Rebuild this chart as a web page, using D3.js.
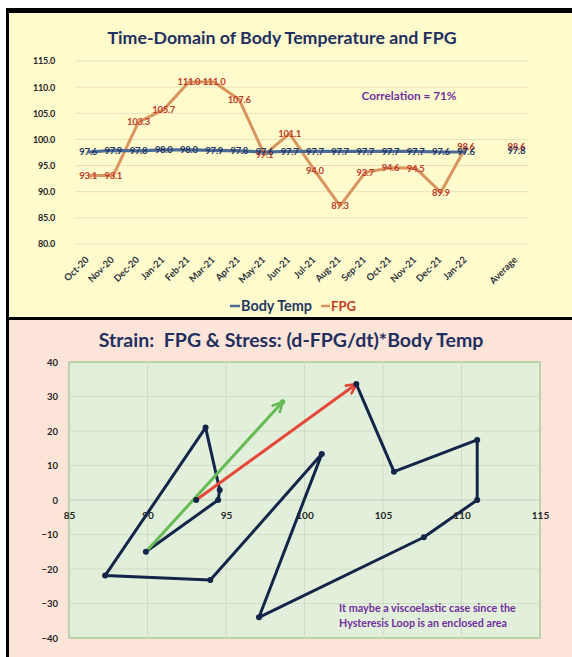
<!DOCTYPE html>
<html><head><meta charset="utf-8">
<script src="https://cdn.jsdelivr.net/npm/d3@7"></script>
<style>
body{margin:0;background:#fff}
svg{display:block}
text{font-family:Lato,"Open Sans",sans-serif;font-weight:bold}
</style>
</head><body>
<svg id="c" width="572" height="657"></svg>
<script>
// ---------- DATA ----------
const months = ["Oct-20","Nov-20","Dec-20","Jan-21","Feb-21","Mar-21","Apr-21","May-21","Jun-21","Jul-21","Aug-21","Sep-21","Oct-21","Nov-21","Dec-21","Jan-22"];
const categories = months.concat(["", "Average"]);
const bodyTemp = [97.6,97.9,97.8,98.0,98.0,97.9,97.8,97.6,97.7,97.7,97.7,97.7,97.7,97.7,97.6,97.6];
const fpgValues = [93.1,93.1,103.3,105.7,111.0,111.0,107.6,97.1,101.1,94.0,87.3,93.7,94.6,94.5,89.9,98.6];
const avgBodyTemp = 97.8;
const avgFpg = 98.6;
const topYTicks = [80,85,90,95,100,105,110,115];
const correlationText = "Correlation = 71%";

// strain (FPG) vs stress, Nov-20 .. Jan-22
const loopMonths = ["Nov-20","Dec-20","Jan-21","Feb-21","Mar-21","Apr-21","May-21","Jun-21","Jul-21","Aug-21","Sep-21","Oct-21","Nov-21","Dec-21","Jan-22"];
const strainFpg = [93.1,103.3,105.7,111.0,111.0,107.6,97.1,101.1,94.0,87.3,93.7,94.6,94.5,89.9,98.6];
const stress = [0,33.6,8.2,17.4,0,-10.8,-34,13.3,-23.2,-21.9,21,2.9,0,-15,28.4];
const bottomXTicks = [85,90,95,100,105,110,115];
const bottomYTicks = [-40,-30,-20,-10,0,10,20,30,40];
const noteLines = ["It maybe a viscoelastic case since the","Hysteresis Loop is an enclosed area"];

// ---------- HELPERS ----------
const svg = d3.select("#c");
function fit(sel, w){
  const n = sel.node(); const fs = parseFloat(sel.attr("font-size"));
  const L = n.getComputedTextLength();
  if (L > 0) sel.attr("font-size", (fs * w / L).toFixed(2));
  return sel;
}

// ---------- PANELS ----------
svg.append("rect").attr("x",6).attr("y",8).attr("width",566).attr("height",649).attr("fill","#000");
svg.append("rect").attr("x",9).attr("y",13).attr("width",563).attr("height",304).attr("fill","#FFFBCD");
svg.append("rect").attr("x",9).attr("y",320).attr("width",563).attr("height",337).attr("fill","#FDE4D9");

// ---------- TOP CHART ----------
const navy = "#1F2F5F";
const blueLine = "#4C6C98", orangeLine = "#D9955F", redLabel = "#BF3B2A", navyLabel = "#1F3864";

fit(svg.append("text").attr("x",282).attr("y",44).attr("text-anchor","middle")
  .attr("font-size",18).attr("fill",navy).text("Time-Domain of Body Temperature and FPG"), 349);

const x = d3.scaleBand().domain(d3.range(categories.length)).range([75.5, 529]);
const y = d3.scaleLinear().domain([80,115]).range([244, 61]);
const cx = i => x(i) + x.bandwidth()/2;

const gGrid = svg.append("g");
gGrid.selectAll("line").data(topYTicks).join("line")
  .attr("x1", x.range()[0]).attr("x2", x.range()[1])
  .attr("y1", d=>y(d)).attr("y2", d=>y(d))
  .attr("stroke","#E6E1BC").attr("stroke-width",1);

const yAx = svg.append("g").attr("transform","translate(75,0)")
  .call(d3.axisLeft(y).tickValues(topYTicks).tickFormat(d3.format(".1f")).tickSize(0).tickPadding(20));
yAx.select(".domain").remove();
yAx.selectAll("text").attr("font-size",9).attr("fill","#262626").attr("font-family","Lato").attr("font-weight","bold").attr("letter-spacing","-0.2");

const xAx = svg.append("g").attr("transform","translate(0,244)")
  .call(d3.axisBottom(x).tickFormat(i=>categories[i]).tickSize(0));
xAx.select(".domain").remove();
xAx.selectAll(".tick text")
  .attr("font-size",9.5).attr("fill","#2E3440").attr("font-family","Lato").attr("font-weight","bold")
  .attr("text-anchor","end").attr("y",0).attr("dy","0.35em")
  .attr("transform","translate(-1,14) rotate(-45)");

const idx = d3.range(months.length);
const line = d3.line().x(i=>cx(i));
svg.append("path").attr("d", line.y(i=>y(fpgValues[i]))(idx))
  .attr("fill","none").attr("stroke",orangeLine).attr("stroke-width",3).attr("stroke-linejoin","round");
svg.append("path").attr("d", line.y(i=>y(bodyTemp[i]))(idx))
  .attr("fill","none").attr("stroke",blueLine).attr("stroke-width",3.2).attr("stroke-linejoin","round");

const lab = svg.append("g").attr("font-size",9.5).attr("text-anchor","middle").attr("letter-spacing","-0.3");
lab.selectAll(".fl").data(idx).join("text").attr("class","fl")
  .attr("x",i=>cx(i)).attr("y",i=>y(fpgValues[i])).attr("dy","0.35em")
  .attr("fill",redLabel).text(i=>fpgValues[i].toFixed(1));
lab.selectAll(".bl").data(idx).join("text").attr("class","bl")
  .attr("x",i=>cx(i)).attr("y",i=>y(bodyTemp[i])).attr("dy","0.35em")
  .attr("fill",navyLabel).text(i=>bodyTemp[i].toFixed(1));
const ai = categories.length - 1;
lab.append("text").attr("x",cx(ai)).attr("y",y(avgFpg)).attr("dy","0.35em").attr("fill",redLabel).text(avgFpg.toFixed(1));
lab.append("text").attr("x",cx(ai)).attr("y",y(avgBodyTemp)).attr("dy","0.35em").attr("fill",navyLabel).text(avgBodyTemp.toFixed(1));

fit(svg.append("text").attr("x",409).attr("y",96).attr("dy","0.35em").attr("text-anchor","middle")
  .attr("font-size",12).attr("fill","#7030A0").text(correlationText), 95);

// legend
svg.append("line").attr("x1",230).attr("x2",240).attr("y1",306).attr("y2",306).attr("stroke",blueLine).attr("stroke-width",2.5);
fit(svg.append("text").attr("x",241).attr("y",306).attr("dy","0.35em").attr("font-size",14).attr("fill",navyLabel).text("Body Temp"), 71);
svg.append("line").attr("x1",321).attr("x2",330).attr("y1",306).attr("y2",306).attr("stroke",orangeLine).attr("stroke-width",2.5);
fit(svg.append("text").attr("x",331).attr("y",306).attr("dy","0.35em").attr("font-size",14).attr("fill",redLabel).text("FPG"), 25);

// ---------- BOTTOM CHART ----------
fit(svg.append("text").attr("x",291).attr("y",347).attr("text-anchor","middle").style("white-space","pre")
  .attr("font-size",18).attr("fill",navy).text("Strain:  FPG & Stress: (d-FPG/dt)*Body Temp"), 385);

const bx = d3.scaleLinear().domain([85,115]).range([69, 540]);
const by = d3.scaleLinear().domain([-40,40]).range([638, 362]);

svg.append("rect").attr("x",bx(85)).attr("y",by(40)).attr("width",bx(115)-bx(85)).attr("height",by(-40)-by(40))
  .attr("fill","#E2EFDA").attr("stroke","#9CC487").attr("stroke-width",1.2);
const bg = svg.append("g");
bg.selectAll(".vg").data(bottomXTicks.slice(1,-1)).join("line").attr("class","vg")
  .attr("x1",d=>bx(d)).attr("x2",d=>bx(d)).attr("y1",by(40)).attr("y2",by(-40))
  .attr("stroke","#D0DCC6").attr("stroke-width",1);
bg.selectAll(".hg").data(bottomYTicks.slice(1,-1)).join("line").attr("class","hg")
  .attr("x1",bx(85)).attr("x2",bx(115)).attr("y1",d=>by(d)).attr("y2",d=>by(d))
  .attr("stroke",d=>d===0?"#C4CCBE":"#D0DCC6").attr("stroke-width",1);

const byAx = svg.append("g").attr("transform",`translate(${bx(85)},0)`)
  .call(d3.axisLeft(by).tickValues(bottomYTicks).tickSize(0).tickPadding(11));
byAx.select(".domain").remove();
byAx.selectAll("text").attr("font-size",9.5).attr("fill","#262626").attr("font-family","Lato").attr("font-weight","bold");

const bxAx = svg.append("g").attr("transform",`translate(0,${by(0)})`)
  .call(d3.axisBottom(bx).tickValues(bottomXTicks).tickSize(0).tickPadding(12));
bxAx.select(".domain").remove();
bxAx.selectAll("text").attr("font-size",10).attr("fill","#262626").attr("font-family","Lato").attr("font-weight","bold");

// arrow markers
const defs = svg.append("defs");
function marker(id, color){
  defs.append("marker").attr("id",id).attr("viewBox","0 0 12 12").attr("refX",10.5).attr("refY",6)
    .attr("markerWidth",12).attr("markerHeight",12).attr("markerUnits","userSpaceOnUse").attr("orient","auto")
    .append("path").attr("d","M1,1 L10.5,6 L1,11").attr("fill","none").attr("stroke",color)
    .attr("stroke-width",2.6).attr("stroke-linejoin","miter").attr("stroke-linecap","round");
}
marker("arR","#E5483A"); marker("arG","#66BB55");

const pts = d3.range(loopMonths.length).map(i=>[bx(strainFpg[i]), by(stress[i])]);
const last = pts.length - 1;
const bl = d3.line();
// navy loop Dec-20 .. Dec-21
svg.append("path").attr("d", bl(pts.slice(1, last)))
  .attr("fill","none").attr("stroke","#14254A").attr("stroke-width",3).attr("stroke-linejoin","round");
// red arrow Nov-20 -> Dec-20
svg.append("path").attr("d", bl([pts[0], pts[1]])).attr("fill","none")
  .attr("stroke","#E5483A").attr("stroke-width",3).attr("marker-end","url(#arR)");
// green arrow Dec-21 -> Jan-22
svg.append("path").attr("d", bl([pts[last-1], pts[last]])).attr("fill","none")
  .attr("stroke","#66BB55").attr("stroke-width",3).attr("marker-end","url(#arG)");
// markers
svg.selectAll(".dot").data(pts.slice(0,last)).join("circle").attr("class","dot")
  .attr("cx",d=>d[0]).attr("cy",d=>d[1]).attr("r",3).attr("fill","#14254A");
svg.append("circle").attr("cx",pts[last][0]).attr("cy",pts[last][1]).attr("r",2.8).attr("fill","#66BB55");

// note
noteLines.forEach((t,k)=>{
  const s = svg.append("text").attr("x",339).attr("y",608 + k*15).attr("dy","0.35em")
    .attr("font-size",10.5).attr("fill","#7030A0").text(t);
  fit(s, k===0 ? 177 : 168);
});
</script>
</body></html>
